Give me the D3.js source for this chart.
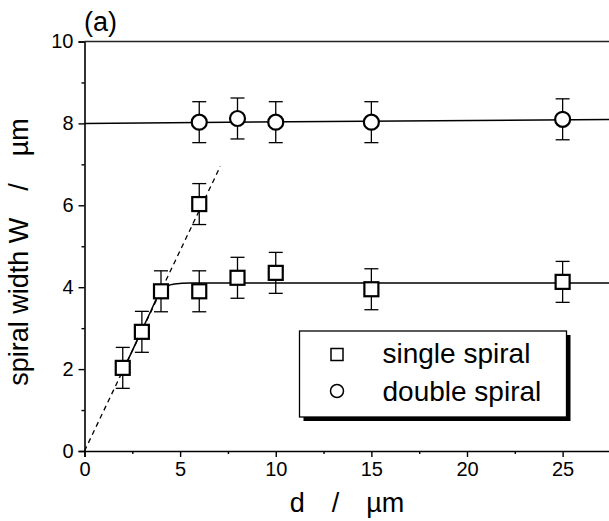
<!DOCTYPE html>
<html>
<head>
<meta charset="utf-8">
<script src="https://cdn.jsdelivr.net/npm/d3@7"></script>
<style>
  body { margin: 0; background: #fff; }
  text { font-family: "Liberation Sans", Arial, sans-serif; fill: #000; }
</style>
</head>
<body>
<script>
// data
var singleD = [2, 3, 4, 6, 6, 8, 10, 15, 25],
    singleW = [2.03, 2.91, 3.9, 3.9, 6.03, 4.23, 4.35, 3.95, 4.13],
    singleErr = [0.5, 0.5, 0.5, 0.5, 0.5, 0.5, 0.5, 0.5, 0.5];

var doubleD = [6, 8, 10, 15, 25],
    doubleW = [8.03, 8.12, 8.03, 8.03, 8.1],
    doubleErr = [0.5, 0.5, 0.5, 0.5, 0.5];

// fitted curves
var fitSingleD = [2.0, 2.5, 3.0, 3.5, 3.8, 4.0, 4.3, 4.7, 5.5, 28],
    fitSingleW = [1.95, 2.45, 2.95, 3.45, 3.75, 3.9, 4.02, 4.08, 4.1, 4.1];
var fitDoubleD = [0, 28],
    fitDoubleW = [8.0, 8.1];
var dashD = [0, 7.1],
    dashW = [0, 6.95];

var xTicks = [0, 5, 10, 15, 20, 25],
    xMinor = [2.5, 7.5, 12.5, 17.5, 22.5, 27.5],
    yTicks = [0, 2, 4, 6, 8, 10],
    yMinor = [1, 3, 5, 7, 9];

var legendLabels = ["single spiral", "double spiral"];

var width = 609,
    height = 521;

var svg = d3.select("body").append("svg")
    .attr("width", width)
    .attr("height", height);

var x = d3.scaleLinear().domain([0, 28]).range([84.5, 620]);
var y = d3.scaleLinear().domain([0, 10]).range([451, 41.5]);

// axes
var xAxis = svg.append("g")
    .attr("transform", "translate(0," + y(0) + ")")
    .call(d3.axisBottom(x).tickValues(xTicks).tickSize(6).tickPadding(5).tickFormat(d3.format("d")));
var xAxisMinor = svg.append("g")
    .attr("transform", "translate(0," + y(0) + ")")
    .call(d3.axisBottom(x).tickValues(xMinor).tickSize(3).tickFormat(""));
var yAxis = svg.append("g")
    .attr("transform", "translate(" + x(0) + ",0)")
    .call(d3.axisLeft(y).tickValues(yTicks).tickSize(6).tickPadding(5).tickFormat(d3.format("d")));
var yAxisMinor = svg.append("g")
    .attr("transform", "translate(" + x(0) + ",0)")
    .call(d3.axisLeft(y).tickValues(yMinor).tickSize(3).tickFormat(""));

svg.selectAll(".domain").attr("stroke", "#000").attr("stroke-width", 1.6);
svg.selectAll(".tick line").attr("stroke", "#000").attr("stroke-width", 1.4);
svg.selectAll(".tick text")
    .style("font-family", "'Liberation Sans', Arial, sans-serif")
    .style("font-size", "20px")
    .attr("fill", "#000");
xAxisMinor.select(".domain").remove();
yAxisMinor.select(".domain").remove();

// top frame line
svg.append("line")
    .attr("x1", x(0)).attr("x2", x(28))
    .attr("y1", y(10)).attr("y2", y(10))
    .attr("stroke", "#222").attr("stroke-width", 1.3);

// axis titles
svg.append("text")
    .attr("x", 347).attr("y", 512)
    .attr("text-anchor", "middle")
    .style("font-size", "27px")
    .text("d\u2003/\u2003\u00b5m");

svg.append("text")
    .attr("transform", "translate(28,252) rotate(-90)")
    .attr("text-anchor", "middle")
    .style("font-size", "27px")
    .text("spiral width W\u2003/\u2003\u00b5m");

svg.append("text")
    .attr("x", 84).attr("y", 31)
    .style("font-size", "27px")
    .text("(a)");

// fit lines
var line = d3.line().x(function (d) { return x(d[0]); }).y(function (d) { return y(d[1]); });

svg.append("path")
    .datum(d3.zip(dashD, dashW))
    .attr("d", line)
    .attr("fill", "none").attr("stroke", "#000").attr("stroke-width", 1.3)
    .attr("stroke-dasharray", "5,4");

svg.append("path")
    .datum(d3.zip(fitSingleD, fitSingleW))
    .attr("d", line.curve(d3.curveMonotoneX))
    .attr("fill", "none").attr("stroke", "#000").attr("stroke-width", 1.5);

svg.append("path")
    .datum(d3.zip(fitDoubleD, fitDoubleW))
    .attr("d", d3.line().x(function (d) { return x(d[0]); }).y(function (d) { return y(d[1]); }))
    .attr("fill", "none").attr("stroke", "#000").attr("stroke-width", 1.5);

// error bars
function errorBars(ds, ws, es) {
    var g = svg.append("g");
    var rows = d3.zip(ds, ws, es);
    g.selectAll(".ev").data(rows).enter().append("line")
        .attr("x1", function (d) { return x(d[0]); })
        .attr("x2", function (d) { return x(d[0]); })
        .attr("y1", function (d) { return y(d[1] - d[2]); })
        .attr("y2", function (d) { return y(d[1] + d[2]); })
        .attr("stroke", "#000").attr("stroke-width", 1.3);
    [-1, 1].forEach(function (s) {
        g.selectAll(".cap" + s).data(rows).enter().append("line")
            .attr("x1", function (d) { return x(d[0]) - 7; })
            .attr("x2", function (d) { return x(d[0]) + 7; })
            .attr("y1", function (d) { return y(d[1] + s * d[2]); })
            .attr("y2", function (d) { return y(d[1] + s * d[2]); })
            .attr("stroke", "#000").attr("stroke-width", 1.3);
    });
}
errorBars(singleD, singleW, singleErr);
errorBars(doubleD, doubleW, doubleErr);

// markers
svg.append("g").selectAll("rect")
    .data(d3.zip(singleD, singleW)).enter().append("rect")
    .attr("x", function (d) { return x(d[0]) - 7; })
    .attr("y", function (d) { return y(d[1]) - 7; })
    .attr("width", 14).attr("height", 14)
    .attr("fill", "#fff").attr("stroke", "#000").attr("stroke-width", 2.2);

svg.append("g").selectAll("circle")
    .data(d3.zip(doubleD, doubleW)).enter().append("circle")
    .attr("cx", function (d) { return x(d[0]); })
    .attr("cy", function (d) { return y(d[1]); })
    .attr("r", 7.5)
    .attr("fill", "#fff").attr("stroke", "#000").attr("stroke-width", 2.2);

// legend
var lg = svg.append("g").attr("transform", "translate(299.5,331)");
lg.append("rect").attr("x", 4).attr("y", 4).attr("width", 267).attr("height", 86).attr("fill", "#000");
lg.append("rect").attr("width", 267).attr("height", 86)
    .attr("fill", "#fff").attr("stroke", "#000").attr("stroke-width", 1.3);
lg.append("rect").attr("x", 31.5).attr("y", 17.5).attr("width", 12).attr("height", 12)
    .attr("fill", "#fff").attr("stroke", "#000").attr("stroke-width", 1.5);
lg.append("circle").attr("cx", 37.5).attr("cy", 60).attr("r", 6.5)
    .attr("fill", "#fff").attr("stroke", "#000").attr("stroke-width", 1.5);
lg.selectAll(".lt").data(legendLabels).enter().append("text")
    .attr("x", 83)
    .attr("y", function (d, i) { return 32 + i * 38; })
    .style("font-size", "28px")
    .text(function (d) { return d; });
</script>
</body>
</html>
